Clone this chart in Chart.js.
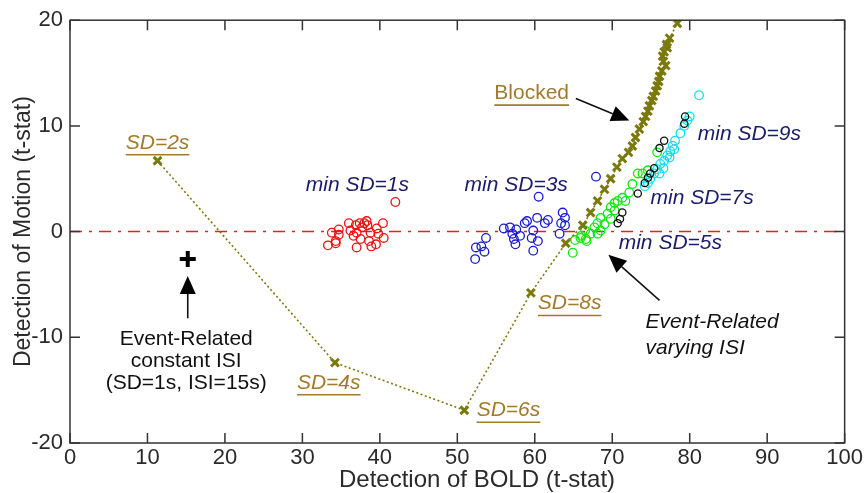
<!DOCTYPE html>
<html><head><meta charset="utf-8">
<script src="https://cdn.jsdelivr.net/npm/chart.js@4.4.1/dist/chart.umd.min.js"></script>
<style>html,body{margin:0;padding:0;background:#fff}#wrap{width:865px;height:493px}</style>
</head><body><div id="wrap"><canvas id="c" width="865" height="493"></canvas></div>
<script>
const xTicks = [0,10,20,30,40,50,60,70,80,90,100];
const yTicks = [-20,-10,0,10,20];
const xTitle = 'Detection of BOLD (t-stat)';
const yTitle = 'Detection of Motion (t-stat)';

const blockedX = [11.3,34.2,50.9,59.5,64.0,66.2,67.2,68.1,69.0,69.8,70.6,71.3,72.1,72.6,73.0,73.5,74.0,74.3,74.6,74.8,75.1,75.3,75.6,75.8,76.0,76.1,76.4,76.9,76.6,76.5,76.7,77.1,77.0,77.4,78.4];
const blockedY = [6.7,-12.4,-16.9,-5.8,-1.1,0.6,1.8,2.9,4.0,5.0,6.1,6.9,7.5,8.1,8.9,9.7,10.4,10.9,11.4,11.9,12.4,12.8,13.3,13.8,14.2,14.7,15.2,15.7,16.1,16.6,17.0,17.4,17.7,18.3,19.7];

const sd1X = [42.0,33.8,34.7,34.7,34.3,33.3,36.0,36.2,36.9,37.0,37.4,37.5,37.0,37.7,38.3,38.4,38.8,38.6,38.9,39.5,39.6,39.8,40.4,40.5,38.0,36.6,34.3];
const sd1Y = [2.8,-0.1,0.2,-0.3,-0.9,-1.3,0.8,0.1,0.6,-0.1,0.8,-0.7,-1.5,0.4,1.0,0.6,-0.1,-0.9,-1.4,-1.2,0.3,-0.2,0.8,-0.6,0.8,-0.4,-1.1];

const sd3X = [60.5,52.3,52.4,53.1,53.5,53.7,56.0,56.8,57.1,57.3,57.5,57.6,58.1,58.7,59.0,59.8,59.6,60.3,60.4,59.8,61.3,61.7,63.2,63.4,63.6,63.9,63.9,67.9];
const sd3Y = [3.3,-2.6,-1.5,-1.4,-1.9,-0.6,0.3,0.4,-0.2,-0.7,-1.2,0.2,-0.4,0.8,1.0,0.1,-0.6,1.3,-0.9,-1.8,0.8,1.1,-0.2,0.8,1.8,1.3,0.6,5.2];

const sd5X = [64.9,65.2,65.9,66.6,66.5,67.2,67.7,68.1,68.5,69.0,69.4,69.8,70.3,70.7,71.3,71.7,72.2,72.6,73.3,73.9,75.8,74.6,68.5,68.1,69.8,70.3,66.0,66.7];
const sd5Y = [-2.0,-0.8,-0.6,-0.7,0.1,-0.2,0.4,0.8,1.3,0.7,1.7,2.3,2.7,2.9,3.2,2.9,3.7,4.5,5.5,5.5,7.5,5.8,0.1,-0.2,1.2,2.0,-0.4,-0.9];

const sd9X = [81.2,80.0,79.7,79.3,78.8,78.1,77.8,77.5,77.1,76.7,76.2,75.8,75.4,74.9,74.6,74.2,77.4,78.0,76.6,76.1];
const sd9Y = [12.9,10.9,10.5,10.0,9.3,8.6,8.1,7.6,7.2,6.7,6.4,5.9,5.5,5.0,4.6,4.3,7.0,7.8,6.0,5.5];

const sd7X = [73.3,71.0,71.3,70.7,76.1,76.7,75.4,74.6,74.2,74.9,79.4,79.3];
const sd7Y = [3.6,1.2,1.8,0.8,7.9,8.6,6.0,5.1,4.6,5.5,10.9,10.2];

const constX = [15.2];
const constY = [-2.6];

const zeroLineX = [0,100];
const zeroLineY = [0,0];

const pts = (xs, ys) => xs.map((x,i)=>({x, y: ys[i]}));
const OLIVE = '#7a7a0c';
const LABEL = '#a27a2c';
const NAVY = '#1b1b6b';
const FONT = '"Liberation Sans", Arial, sans-serif';

const texts = [
  {t:'SD=2s', x:11.3, y:8.4, c:LABEL, it:true, u:true},
  {t:'SD=4s', x:33.4, y:-14.3, c:LABEL, it:true, u:true},
  {t:'SD=6s', x:56.6, y:-16.9, c:LABEL, it:true, u:true},
  {t:'SD=8s', x:64.5, y:-6.8, c:LABEL, it:true, u:true},
  {t:'Blocked', x:59.6, y:13.1, c:LABEL, it:false, u:true},
  {t:'min SD=1s', x:37.1, y:4.4, c:NAVY, it:true},
  {t:'min SD=3s', x:57.6, y:4.4, c:NAVY, it:true},
  {t:'min SD=9s', x:87.7, y:9.2, c:NAVY, it:true},
  {t:'min SD=7s', x:81.6, y:3.2, c:NAVY, it:true},
  {t:'min SD=5s', x:77.5, y:-1.1, c:NAVY, it:true},
  {t:'Event-Related', x:74.3, y:-8.6, c:'#111', it:true, left:true},
  {t:'varying ISI', x:74.3, y:-11.0, c:'#111', it:true, left:true},
  {t:'Event-Related', x:15.0, y:-10.2, c:'#111'},
  {t:'constant ISI', x:15.0, y:-12.3, c:'#111'},
  {t:'(SD=1s, ISI=15s)', x:15.0, y:-14.3, c:'#111'}
];
const arrows = [
  {x0:65.3, y0:12.6, x1:72.2, y1:10.5},
  {x0:76.1, y0:-6.5, x1:69.5, y1:-2.2},
  {x0:15.2, y0:-8.2, x1:15.2, y1:-4.2}
];

const deco = {
  id:'deco',
  afterDatasetsDraw(chart){
    const ctx = chart.ctx, xs = chart.scales.x, ys = chart.scales.y, a = chart.chartArea;
    ctx.save();
    ctx.strokeStyle = '#333'; ctx.lineWidth = 1.5;
    ctx.strokeRect(a.left, a.top, a.right-a.left, a.bottom-a.top);
    const tl = 10;
    ctx.beginPath();
    xTicks.forEach(v=>{const p = xs.getPixelForValue(v); ctx.moveTo(p,a.bottom); ctx.lineTo(p,a.bottom-tl); ctx.moveTo(p,a.top); ctx.lineTo(p,a.top+tl);});
    yTicks.forEach(v=>{const p = ys.getPixelForValue(v); ctx.moveTo(a.left,p); ctx.lineTo(a.left+tl,p); ctx.moveTo(a.right,p); ctx.lineTo(a.right-tl,p);});
    ctx.stroke();
    // x axis title (offset right as in the original)
    ctx.font = '24px ' + FONT; ctx.fillStyle = '#2a2a2a'; ctx.textAlign = 'center'; ctx.textBaseline = 'middle';
    ctx.fillText(xTitle, 477, 480);
    ctx.textBaseline = 'middle';
    texts.forEach(o=>{
      ctx.font = (o.it?'italic ':'') + '21px ' + FONT;
      ctx.fillStyle = o.c;
      const px = xs.getPixelForValue(o.x), py = ys.getPixelForValue(o.y);
      const w = ctx.measureText(o.t).width;
      const lx = o.left ? px : px - w/2;
      ctx.textAlign = 'left';
      ctx.fillText(o.t, lx, py);
      if (o.u){ ctx.strokeStyle = o.c; ctx.lineWidth = 1.6; ctx.beginPath(); ctx.moveTo(lx, py+12); ctx.lineTo(lx+w, py+12); ctx.stroke(); }
    });
    arrows.forEach(r=>{
      const x0 = xs.getPixelForValue(r.x0), y0 = ys.getPixelForValue(r.y0);
      const x1 = xs.getPixelForValue(r.x1), y1 = ys.getPixelForValue(r.y1);
      const ang = Math.atan2(y1-y0, x1-x0), hl = 18, hw = 8;
      const bx = x1 - hl*Math.cos(ang), by = y1 - hl*Math.sin(ang);
      ctx.strokeStyle = '#111'; ctx.lineWidth = 1.6;
      ctx.beginPath(); ctx.moveTo(x0,y0); ctx.lineTo(bx,by); ctx.stroke();
      ctx.fillStyle = '#000';
      ctx.beginPath(); ctx.moveTo(x1,y1);
      ctx.lineTo(bx + hw*Math.sin(ang), by - hw*Math.cos(ang));
      ctx.lineTo(bx - hw*Math.sin(ang), by + hw*Math.cos(ang));
      ctx.closePath(); ctx.fill();
    });
    ctx.restore();
  }
};

const circ = (label, xs, ys, color, r, ord) => ({
  label, data: pts(xs, ys), showLine:false, pointStyle:'circle', pointRadius:r,
  pointBorderColor:color, pointBackgroundColor:'rgba(0,0,0,0)', pointBorderWidth:1.3, order:ord
});

new Chart(document.getElementById('c'), {
  type:'scatter',
  data:{ datasets:[
    {label:'zero', data: pts(zeroLineX, zeroLineY), showLine:true, pointRadius:0, borderColor:'#e02424', borderWidth:1.5, borderDash:[12,7,3,7], order:9},
    circ('min SD=1s', sd1X, sd1Y, '#f01010', 4.3, 8),
    circ('min SD=3s', sd3X, sd3Y, '#1a1ad0', 4.3, 7),
    circ('min SD=5s', sd5X, sd5Y, '#10e810', 4.3, 6),
    circ('min SD=9s', sd9X, sd9Y, '#10e0ee', 4.3, 5),
    circ('min SD=7s', sd7X, sd7Y, '#111111', 3.6, 4),
    {label:'Blocked', data: pts(blockedX, blockedY), showLine:true, borderColor:OLIVE, borderWidth:1.6, borderDash:[2,2.5],
     pointStyle:'crossRot', pointRadius:5.5, pointBorderColor:OLIVE, pointBorderWidth:3, order:3},
    {label:'constant ISI', data: pts(constX, constY), showLine:false, pointStyle:'cross', pointRadius:8, pointBorderColor:'#000', pointBorderWidth:4, order:2}
  ]},
  options:{
    responsive:false, animation:false,
    layout:{padding:{top:19, right:17, left:0, bottom:0}},
    plugins:{legend:{display:false}, tooltip:{enabled:false}},
    scales:{
      x:{type:'linear', min:0, max:100, afterFit(s){s.height=50;},
         afterBuildTicks(s){s.ticks = xTicks.map(v=>({value:v}));},
         grid:{display:false, drawTicks:false}, border:{display:false},
         ticks:{font:{size:22, family:FONT}, color:'#2a2a2a', padding:2, maxRotation:0, autoSkip:false},
         title:{display:false}},
      y:{type:'linear', min:-20, max:20, afterFit(s){s.width=70;},
         afterBuildTicks(s){s.ticks = yTicks.map(v=>({value:v}));},
         grid:{display:false, drawTicks:false}, border:{display:false},
         ticks:{font:{size:22, family:FONT}, color:'#2a2a2a', padding:7, autoSkip:false},
         title:{display:true, text:yTitle, font:{size:23, family:FONT}, color:'#2a2a2a', padding:{top:10,bottom:0}}}
    }
  },
  plugins:[deco]
});
</script></body></html>
